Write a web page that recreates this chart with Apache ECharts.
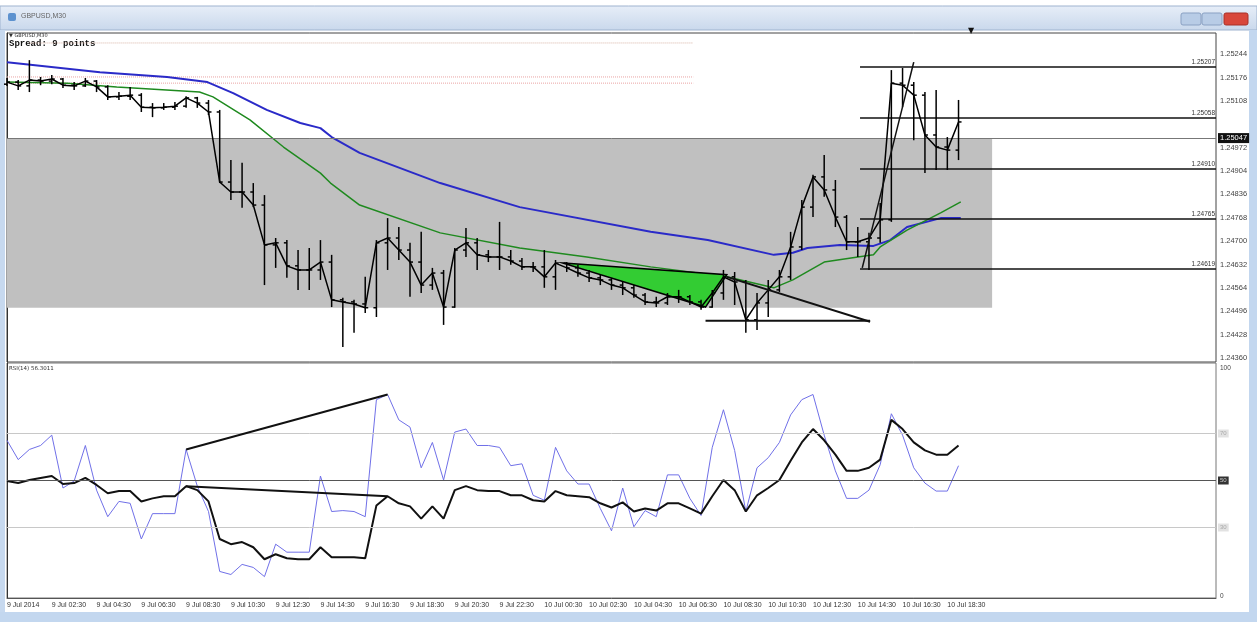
<!DOCTYPE html>
<html>
<head>
<meta charset="utf-8">
<title>GBPUSD,M30</title>
<script src="https://cdn.jsdelivr.net/npm/echarts@6/dist/echarts.min.js"></script>
<style>
  html, body { margin: 0; padding: 0; background: #fff; }
  #chart { width: 1257px; height: 622px; }
</style>
</head>
<body>
<div id="chart"></div>
<script>
  // GBPUSD M30 bars
  const barOpen = [
    1.25157, 1.25163, 1.25152, 1.25169, 1.25166, 1.25172, 1.25154, 1.25152, 1.25166, 1.25149,
    1.25120, 1.25122, 1.25125, 1.25090, 1.25088, 1.25090, 1.25093, 1.25117, 1.25102, 1.25076,
    1.24872, 1.24843, 1.24843, 1.24805, 1.24689, 1.24695, 1.24628, 1.24616, 1.24616, 1.24639,
    1.24529, 1.24523, 1.24517, 1.24506, 1.24695, 1.24709, 1.24674, 1.24639, 1.24572, 1.24607,
    1.24508, 1.24674, 1.24695, 1.24660, 1.24654, 1.24654, 1.24642, 1.24625, 1.24625, 1.24596,
    1.24636, 1.24622, 1.24607, 1.24593, 1.24587, 1.24572, 1.24564, 1.24543, 1.24523, 1.24520,
    1.24538, 1.24538, 1.24523, 1.24508, 1.24549, 1.24596, 1.24581, 1.24471, 1.24520, 1.24558,
    1.24596, 1.24683, 1.24799, 1.24887, 1.24849, 1.24770, 1.24698, 1.24698, 1.24709, 1.24762,
    1.25160, 1.25154, 1.25125, 1.25009, 1.24974, 1.24965
  ];
  const barHigh = [
    1.25175, 1.25169, 1.25227, 1.25178, 1.25184, 1.25175, 1.25163, 1.25175, 1.25169, 1.25154,
    1.25134, 1.25149, 1.25131, 1.25102, 1.25102, 1.25105, 1.25122, 1.25120, 1.25111, 1.25082,
    1.24936, 1.24928, 1.24869, 1.24834, 1.24709, 1.24703, 1.24674, 1.24680, 1.24703, 1.24660,
    1.24535, 1.24529, 1.24596, 1.24703, 1.24767, 1.24741, 1.24695, 1.24727, 1.24622, 1.24616,
    1.24680, 1.24738, 1.24709, 1.24674, 1.24756, 1.24674, 1.24651, 1.24639, 1.24674, 1.24645,
    1.24639, 1.24631, 1.24616, 1.24602, 1.24593, 1.24581, 1.24572, 1.24549, 1.24538, 1.24549,
    1.24558, 1.24543, 1.24529, 1.24558, 1.24616, 1.24610, 1.24587, 1.24549, 1.24587, 1.24616,
    1.24727, 1.24820, 1.24893, 1.24951, 1.24878, 1.24776, 1.24741, 1.24724, 1.24811, 1.25198,
    1.25204, 1.25163, 1.25134, 1.25140, 1.25003, 1.25111
  ];
  const barLow = [
    1.25152, 1.25140, 1.25134, 1.25154, 1.25157, 1.25146, 1.25140, 1.25149, 1.25134, 1.25111,
    1.25111, 1.25111, 1.25076, 1.25061, 1.25082, 1.25082, 1.25088, 1.25088, 1.25067, 1.24869,
    1.24820, 1.24797, 1.24799, 1.24572, 1.24622, 1.24593, 1.24558, 1.24558, 1.24587, 1.24508,
    1.24392, 1.24433, 1.24491, 1.24479, 1.24616, 1.24645, 1.24538, 1.24549, 1.24558, 1.24456,
    1.24506, 1.24654, 1.24616, 1.24639, 1.24616, 1.24631, 1.24616, 1.24610, 1.24564, 1.24558,
    1.24610, 1.24596, 1.24581, 1.24572, 1.24558, 1.24543, 1.24535, 1.24514, 1.24508, 1.24514,
    1.24520, 1.24514, 1.24500, 1.24506, 1.24529, 1.24514, 1.24433, 1.24441, 1.24479, 1.24552,
    1.24587, 1.24674, 1.24770, 1.24829, 1.24741, 1.24674, 1.24654, 1.24616, 1.24695, 1.24756,
    1.25090, 1.24994, 1.24898, 1.24907, 1.24907, 1.24936
  ];
  const barClose = [
    1.25163, 1.25152, 1.25169, 1.25166, 1.25172, 1.25154, 1.25152, 1.25166, 1.25149, 1.25120,
    1.25122, 1.25125, 1.25090, 1.25088, 1.25090, 1.25093, 1.25117, 1.25102, 1.25076, 1.24872,
    1.24843, 1.24843, 1.24805, 1.24689, 1.24695, 1.24628, 1.24616, 1.24616, 1.24639, 1.24529,
    1.24523, 1.24517, 1.24506, 1.24695, 1.24709, 1.24674, 1.24639, 1.24572, 1.24607, 1.24508,
    1.24674, 1.24695, 1.24660, 1.24654, 1.24654, 1.24642, 1.24625, 1.24625, 1.24596, 1.24636,
    1.24622, 1.24607, 1.24593, 1.24587, 1.24572, 1.24564, 1.24543, 1.24523, 1.24520, 1.24538,
    1.24538, 1.24523, 1.24508, 1.24549, 1.24596, 1.24581, 1.24471, 1.24520, 1.24558, 1.24596,
    1.24683, 1.24799, 1.24887, 1.24849, 1.24770, 1.24698, 1.24698, 1.24709, 1.24762, 1.25160,
    1.25154, 1.25125, 1.25009, 1.24974, 1.24965, 1.25047
  ];

  // moving averages [bar, price]
  const maSlow = [
    [0, 1.25221], [2.3, 1.25213], [8.3, 1.25192], [14.3, 1.25178], [17.9, 1.25163], [20.2, 1.25131],
    [23.2, 1.25082], [26.2, 1.25044], [28, 1.25029], [29, 1.25003], [31.5, 1.24957], [38.7, 1.24869],
    [45.8, 1.24799], [57.5, 1.24727], [62.6, 1.24703], [68.5, 1.24660], [70.2, 1.24666], [71.5, 1.24680],
    [74.4, 1.24689], [77.4, 1.24686], [78.9, 1.24703], [80.4, 1.24741], [83.4, 1.24767], [85.2, 1.24767]
  ];
  const maFast = [
    [0, 1.25163], [5.4, 1.25160], [9.8, 1.25149], [17.2, 1.25134], [18.4, 1.25120], [21.7, 1.25053],
    [24.7, 1.24974], [28, 1.24898], [28.9, 1.24869], [31.5, 1.24805], [38.7, 1.24724], [45.8, 1.24680],
    [51.8, 1.24654], [57.5, 1.24625], [64.3, 1.24596], [68.5, 1.24564], [70.2, 1.24587], [73, 1.24639],
    [76, 1.24654], [77.4, 1.24660], [78, 1.24683], [80.4, 1.24732], [83.4, 1.24782], [85.2, 1.24814]
  ];

  // RSI window
  const rsiFast = [
    67.1, 58.9, 63.2, 64.9, 69.3, 46.8, 49.8, 64.9, 45.9, 34.6,
    41.1, 40.3, 25.1, 35.9, 35.9, 35.9, 63.2, 47.6, 36.8, 11.3,
    10.0, 14.3, 13.0, 9.1, 22.9, 19.5, 19.5, 19.5, 51.9, 36.8,
    37.2, 36.8, 34.6, 84.4, 86.6, 75.8, 72.7, 55.4, 66.2, 50.2,
    70.6, 71.9, 64.9, 64.9, 64.1, 56.3, 57.1, 43.7, 41.6, 64.1,
    54.1, 48.5, 48.5, 38.1, 28.6, 46.8, 30.3, 37.2, 34.6, 52.4,
    52.4, 42.4, 35.1, 64.1, 80.1, 62.8, 36.8, 55.4, 59.7, 66.2,
    77.9, 84.4, 86.6, 69.3, 54.1, 42.4, 42.4, 45.9, 56.7, 78.4,
    69.3, 55.4, 48.9, 45.5, 45.5, 56.3
  ];
  const rsiSlow = [
    49.8, 48.9, 50.2, 51.1, 51.9, 48.5, 48.9, 51.1, 48.1, 44.6,
    45.5, 45.5, 41.1, 42.4, 43.3, 43.3, 47.6, 45.9, 41.1, 25.1,
    22.9, 23.8, 21.6, 16.5, 18.6, 16.9, 16.5, 16.5, 21.6, 17.3,
    17.3, 17.3, 16.9, 39.4, 43.3, 40.3, 39.0, 33.8, 39.0, 33.8,
    45.9, 47.6, 45.9, 45.5, 45.5, 43.7, 43.7, 41.6, 41.1, 45.5,
    43.7, 43.3, 42.9, 40.3, 38.5, 40.7, 36.8, 38.1, 37.2, 40.3,
    40.3, 38.1, 35.9, 43.3, 50.2, 45.9, 36.8, 43.7, 46.8, 50.2,
    58.4, 66.2, 71.9, 67.1, 61.0, 54.1, 54.1, 55.4, 58.9, 75.8,
    71.9, 66.2, 62.8, 61.0, 61.0, 64.9
  ];

  const timeLabels = [
    '9 Jul 2014', '9 Jul 02:30', '9 Jul 04:30', '9 Jul 06:30', '9 Jul 08:30', '9 Jul 10:30',
    '9 Jul 12:30', '9 Jul 14:30', '9 Jul 16:30', '9 Jul 18:30', '9 Jul 20:30', '9 Jul 22:30',
    '10 Jul 00:30', '10 Jul 02:30', '10 Jul 04:30', '10 Jul 06:30', '10 Jul 08:30', '10 Jul 10:30',
    '10 Jul 12:30', '10 Jul 14:30', '10 Jul 16:30', '10 Jul 18:30'
  ];
  const priceTicks = [1.24360, 1.24428, 1.24496, 1.24564, 1.24632, 1.24700, 1.24768,
    1.24836, 1.24904, 1.24972, 1.25108, 1.25176, 1.25244];

  // objects drawn on the chart
  const bidPrice = 1.25047;
  const levelPrices = [1.25207, 1.25058, 1.24910, 1.24765, 1.24619];
  const zoneBox = [0, 1.25000, 88, 1.24506];
  const greenTriangle = [49.7, 1.24636, 64.3, 1.24602, 62.4, 1.24508];
  const trendDown = [[64.3, 1.24596], [77.1, 1.24465]];
  const trendFlat = [[62.4, 1.24468], [77.1, 1.24468]];
  const trendUp = [[76.4, 1.24622], [81.0, 1.25221]];
  const dotTop = [[2, 1.25277], [61.3, 1.25277]];
  const dotMid1 = [[0, 1.25178], [61.3, 1.25178]];
  const dotMid2 = [[0, 1.25160], [61.3, 1.25160]];
  const rsiTrendHigh = [[16, 63.2], [34, 86.6]];
  const rsiTrendLow = [[16, 47.6], [34, 43.3]];

  const bars = barOpen.map((o, i) => [i, o, barHigh[i], barLow[i], barClose[i]]);
  const closeLine = barClose.map((c, i) => [i, c]);

  function renderBar(params, api) {
    const x = api.value(0);
    const o = api.coord([x, api.value(1)]);
    const h = api.coord([x, api.value(2)]);
    const l = api.coord([x, api.value(3)]);
    const c = api.coord([x, api.value(4)]);
    const style = { stroke: '#000', lineWidth: 1.5 };
    return {
      type: 'group',
      children: [
        { type: 'line', shape: { x1: h[0], y1: h[1], x2: l[0], y2: l[1] }, style },
        { type: 'line', shape: { x1: o[0] - 3, y1: o[1], x2: o[0], y2: o[1] }, style },
        { type: 'line', shape: { x1: c[0], y1: c[1], x2: c[0] + 3, y2: c[1] }, style }
      ]
    };
  }

  function renderZone(params, api) {
    const a = api.coord([api.value(0), api.value(1)]);
    const b = api.coord([api.value(2), api.value(3)]);
    return {
      type: 'rect',
      shape: { x: a[0], y: a[1], width: b[0] - a[0], height: b[1] - a[1] },
      style: { fill: '#c0c0c0' }
    };
  }

  function renderTriangle(params, api) {
    const pts = [0, 2, 4].map(k => api.coord([api.value(k), api.value(k + 1)]));
    return {
      type: 'polygon',
      shape: { points: pts },
      style: { fill: '#33cc33', stroke: '#000', lineWidth: 1.5 }
    };
  }

  function seg(data, color, width, type, xi, z) {
    return {
      type: 'line', data: data, xAxisIndex: xi, yAxisIndex: xi,
      symbol: 'none', silent: true, z: z,
      lineStyle: { color: color, width: width, type: type || 'solid' }
    };
  }

  const chart = echarts.init(document.getElementById('chart'));
  chart.setOption({
    animation: false,
    backgroundColor: '#fff',
    textStyle: { fontFamily: 'Liberation Sans' },
    grid: [
      { left: 7, top: 33, width: 1209, height: 329, show: true, borderColor: '#444', borderWidth: 1 },
      { left: 7, top: 363, width: 1209, height: 235, show: true, borderColor: '#777', borderWidth: 1 }
    ],
    xAxis: [
      { type: 'value', gridIndex: 0, min: 0, max: 108, show: false },
      {
        type: 'value', gridIndex: 1, min: 0, max: 108, interval: 4,
        axisLine: { show: true, lineStyle: { color: '#555' } },
        axisTick: { show: false },
        splitLine: { show: false },
        axisLabel: {
          fontSize: 7, color: '#333', align: 'left', margin: 4,
          formatter: v => (v / 4 < timeLabels.length ? timeLabels[v / 4] : '')
        }
      }
    ],
    yAxis: [
      {
        type: 'value', gridIndex: 0, position: 'right', min: 1.24348, max: 1.25306,
        axisLine: { show: true, lineStyle: { color: '#333' } },
        axisTick: { show: false },
        splitLine: { show: false },
        axisLabel: {
          fontSize: 7.5, color: '#444', margin: 4, customValues: priceTicks,
          formatter: v => v.toFixed(5)
        }
      },
      {
        type: 'value', gridIndex: 1, position: 'right', min: 0, max: 100,
        axisLine: { show: true, lineStyle: { color: '#333' } },
        axisTick: { show: false },
        splitLine: { show: false },
        axisLabel: {
          fontSize: 6.5, color: '#444', margin: 4, customValues: [0, 100],
          formatter: v => (v === 100 ? '{t|100}' : '{b|0}'),
          rich: { t: { fontSize: 6.5, padding: [10, 0, 0, 0] }, b: { fontSize: 6.5, padding: [0, 0, 4, 0] } }
        }
      }
    ],
    graphic: [
      { type: 'rect', shape: { x: 0, y: 6, width: 1257, height: 24 }, silent: true,
        style: { fill: new echarts.graphic.LinearGradient(0, 0, 0, 1, [
          { offset: 0, color: '#e7eef8' }, { offset: 1, color: '#c9d8ec' }]), stroke: '#9fb3cf' } },
      { type: 'rect', shape: { x: 8, y: 13, width: 8, height: 8, r: 2 }, style: { fill: '#5d92cf' } },
      { type: 'text', x: 21, y: 13, style: { text: 'GBPUSD,M30', fontSize: 7, fill: '#666', fontFamily: 'Liberation Sans' } },
      { type: 'rect', shape: { x: 1181, y: 13, width: 20, height: 12, r: 2 }, style: { fill: '#b8cce6', stroke: '#8aa1c3' } },
      { type: 'rect', shape: { x: 1202, y: 13, width: 20, height: 12, r: 2 }, style: { fill: '#b8cce6', stroke: '#8aa1c3' } },
      { type: 'rect', shape: { x: 1224, y: 13, width: 24, height: 12, r: 2 }, style: { fill: '#d8473b', stroke: '#a83028' } },
      { type: 'rect', shape: { x: 0, y: 30, width: 5, height: 592 }, style: { fill: '#c7d9ef' } },
      { type: 'rect', shape: { x: 1249, y: 30, width: 8, height: 592 }, style: { fill: '#c3d7ef' } },
      { type: 'rect', shape: { x: 0, y: 612, width: 1257, height: 10 }, style: { fill: '#c3d7ef' } },
      { type: 'text', x: 9, y: 33, style: { text: '▼ GBPUSD,M30', fontSize: 5, fill: '#333', fontFamily: 'DejaVu Sans' } },
      { type: 'text', x: 9, y: 39, style: { text: 'Spread: 9 points', fontSize: 9, fontWeight: 'bold', fill: '#111', fontFamily: 'Liberation Mono' } },
      { type: 'text', x: 968, y: 27, style: { text: '▼', fontSize: 8, fill: '#111', fontFamily: 'DejaVu Sans' } },
      { type: 'text', x: 9, y: 366, style: { text: 'RSI(14) 56.3011', fontSize: 5.5, fill: '#333', fontFamily: 'DejaVu Sans' } }
    ],
    series: [
      { type: 'custom', renderItem: renderZone, data: [zoneBox], xAxisIndex: 0, yAxisIndex: 0,
        encode: { x: [0, 2], y: [1, 3] }, silent: true, z: 1 },
      seg(dotTop, '#d8b4a6', 1, 'dotted', 0, 2),
      seg(dotMid1, '#eaa3a3', 1, 'dotted', 0, 2),
      seg(dotMid2, '#eaa3a3', 1, 'dotted', 0, 2),
      seg(maSlow, '#2a2ac8', 2, 'solid', 0, 3),
      seg(maFast, '#1f8a1f', 1.5, 'solid', 0, 3),
      { type: 'custom', renderItem: renderTriangle, data: [greenTriangle], xAxisIndex: 0, yAxisIndex: 0,
        encode: { x: [0, 2, 4], y: [1, 3, 5] }, silent: true, z: 4 },
      { type: 'custom', renderItem: renderBar, data: bars, xAxisIndex: 0, yAxisIndex: 0,
        encode: { x: 0, y: [1, 2, 3, 4] }, silent: true, z: 5 },
      {
        type: 'line', data: closeLine, xAxisIndex: 0, yAxisIndex: 0, symbol: 'none', silent: true, z: 6,
        lineStyle: { color: '#000', width: 1.5 },
        markLine: {
          silent: true, symbol: 'none', animation: false,
          data: [
            { yAxis: bidPrice, name: bidPrice.toFixed(5),
              lineStyle: { color: '#777', width: 1, type: 'solid' },
              label: { position: 'end', formatter: '{b}', fontSize: 7.5, color: '#fff',
                backgroundColor: '#111', padding: [1, 2], distance: 2 } }
          ].concat(levelPrices.map(p => [
            { coord: [76.2, p], name: p.toFixed(5),
              lineStyle: { color: '#111', width: 1.5, type: 'solid' },
              label: { position: 'insideEndTop', formatter: '{b}', fontSize: 6.5, color: '#333', distance: 1 } },
            { coord: [108, p] }
          ]))
        }
      },
      seg(trendDown, '#111', 2, 'solid', 0, 7),
      seg(trendFlat, '#111', 2, 'solid', 0, 7),
      seg(trendUp, '#111', 1.5, 'solid', 0, 7),

      seg(rsiFast.map((v, i) => [i, v]), '#7070e8', 1, 'solid', 1, 3),
      {
        type: 'line', data: rsiSlow.map((v, i) => [i, v]), xAxisIndex: 1, yAxisIndex: 1,
        symbol: 'none', silent: true, z: 4, lineStyle: { color: '#111', width: 2 },
        markLine: {
          silent: true, symbol: 'none', animation: false,
          data: [
            { yAxis: 70, name: '70', lineStyle: { color: '#c8c8c8', width: 1, type: 'solid' },
              label: { position: 'end', formatter: '{b}', fontSize: 6, color: '#aaa', backgroundColor: '#e2e2e2', padding: [1, 2], distance: 2 } },
            { yAxis: 50, name: '50', lineStyle: { color: '#555', width: 1, type: 'solid' },
              label: { position: 'end', formatter: '{b}', fontSize: 6, color: '#ccc', backgroundColor: '#333', padding: [1, 2], distance: 2 } },
            { yAxis: 30, name: '30', lineStyle: { color: '#c8c8c8', width: 1, type: 'solid' },
              label: { position: 'end', formatter: '{b}', fontSize: 6, color: '#aaa', backgroundColor: '#e2e2e2', padding: [1, 2], distance: 2 } }
          ]
        }
      },
      seg(rsiTrendHigh, '#111', 2, 'solid', 1, 5),
      seg(rsiTrendLow, '#111', 2, 'solid', 1, 5)
    ]
  });
</script>
</body>
</html>
